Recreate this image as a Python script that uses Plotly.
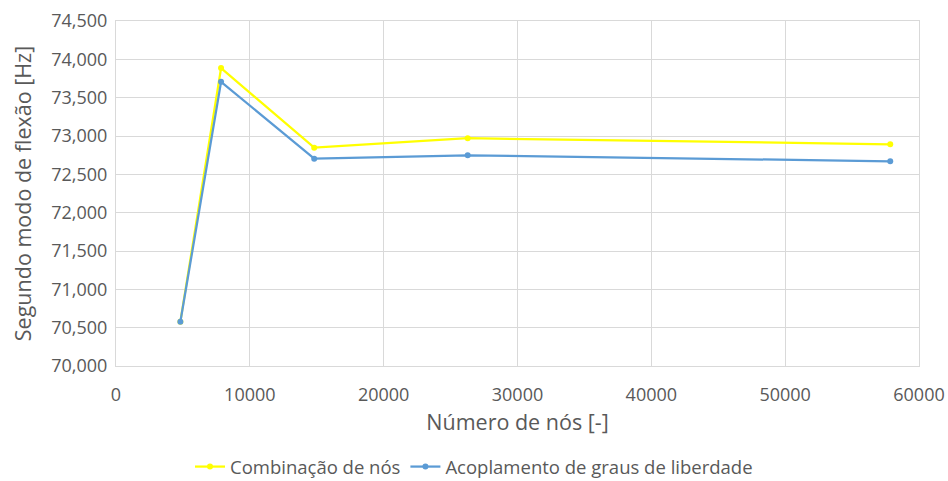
import plotly.graph_objects as go

# Mesh size (number of nodes) and second bending mode frequency [Hz]
nodes = [4810, 7850, 14810, 26280, 57850]
combinacao_nos = [70578, 73886, 72848, 72971, 72892]
acoplamento_gdl = [70578, 73707, 72704, 72748, 72670]

series_names = ["Combinação de nós", "Acoplamento de graus de liberdade"]
series_colors = ["#FFFF00", "#5B9BD5"]

x_ticks = [0, 10000, 20000, 30000, 40000, 50000, 60000]
y_ticks = [70000, 70500, 71000, 71500, 72000, 72500, 73000, 73500, 74000, 74500]

font_family = "Open Sans, Noto Sans, sans-serif"
text_color = "#595959"
grid_color = "#D9D9D9"

fig = go.Figure()
for name, values, color in zip(series_names, [combinacao_nos, acoplamento_gdl], series_colors):
    fig.add_trace(go.Scatter(
        x=nodes, y=values, name=name, mode="lines+markers",
        line=dict(color=color, width=2.25),
        marker=dict(color=color, size=6),
    ))

fig.update_layout(
    width=948, height=481,
    margin=dict(l=116, r=29, t=21, b=115, autoexpand=False),
    paper_bgcolor="white", plot_bgcolor="white",
    font=dict(family=font_family, color=text_color, size=18),
    showlegend=True,
    legend=dict(orientation="h", x=0.5, xanchor="center", xref="container",
                y=0.029, yanchor="middle", yref="container",
                font=dict(size=18.5, color=text_color), itemwidth=30),
)
fig.update_xaxes(
    range=[0, 60000], tickvals=x_ticks, tickformat="d",
    showgrid=True, gridcolor=grid_color, gridwidth=1,
    showline=True, linecolor=grid_color, mirror=True, zeroline=False,
    ticks="", ticklabelstandoff=12,
    tickfont=dict(size=18, color=text_color),
    title=dict(text="Número de nós [-]", font=dict(size=21.5, color=text_color), standoff=10),
)
fig.update_yaxes(
    range=[70000, 74500], tickvals=y_ticks, tickformat=",d",
    showgrid=True, gridcolor=grid_color, gridwidth=1,
    showline=True, linecolor=grid_color, mirror=True, zeroline=False,
    ticks="", ticklabelstandoff=4,
    tickfont=dict(size=18, color=text_color),
    title=dict(text="Segundo modo de flexão [Hz]", font=dict(size=21.5, color=text_color), standoff=13),
)

fig.write_html("out.html")
